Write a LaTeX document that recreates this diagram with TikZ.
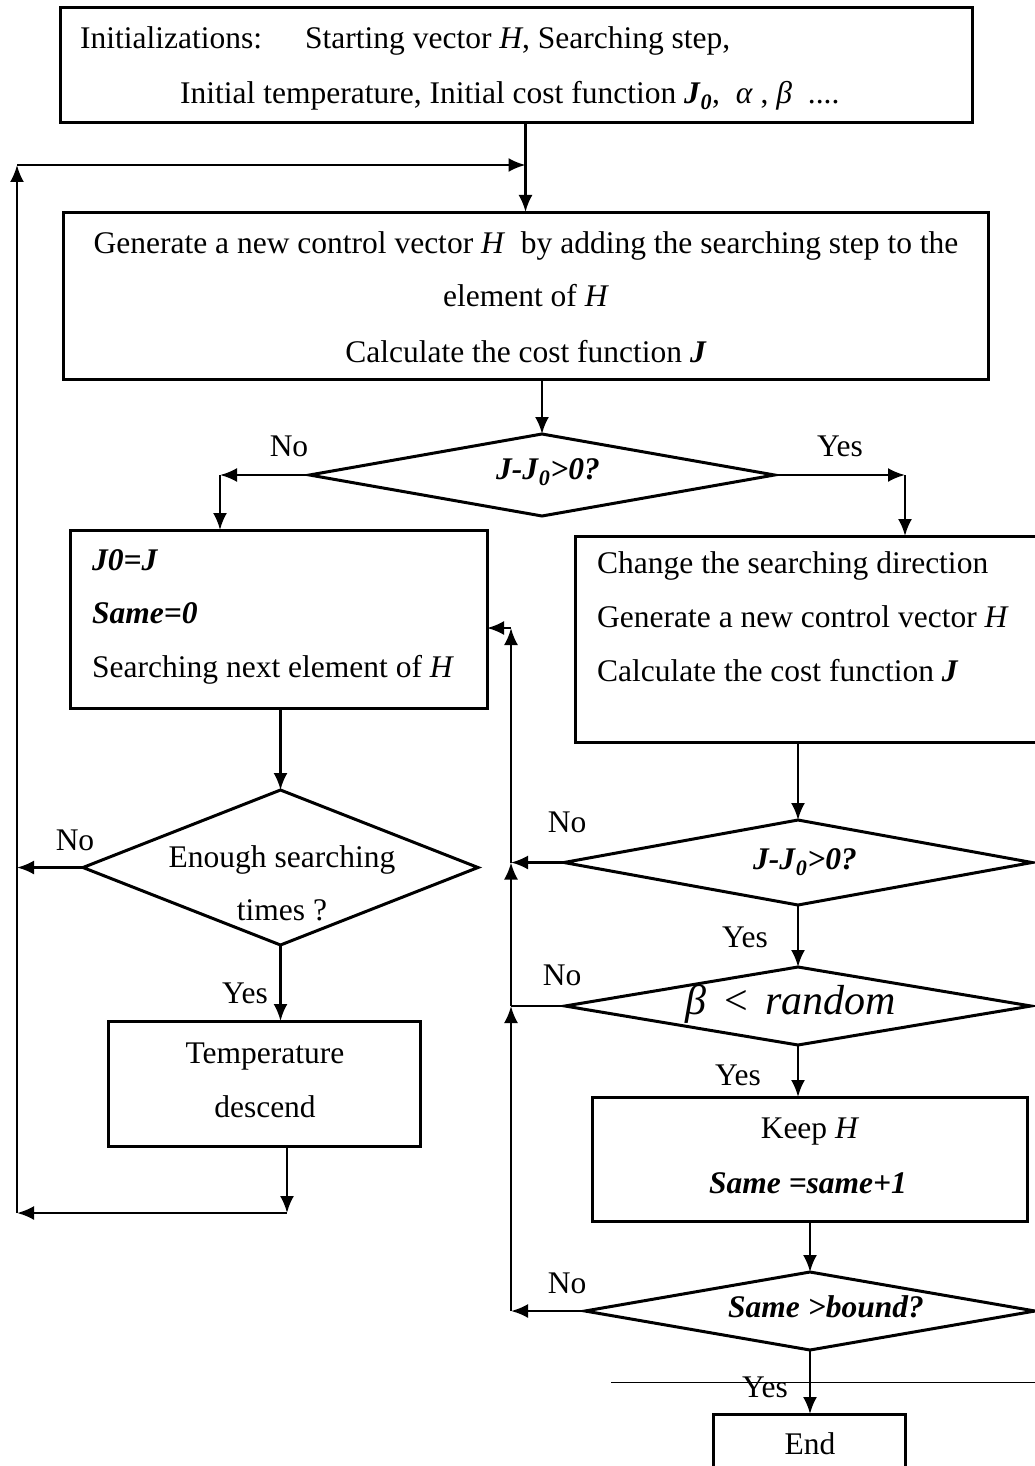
\documentclass[tikz,border=0pt]{standalone}
\usepackage{fontspec}
\setmainfont{Liberation Serif}
\usetikzlibrary{shapes.geometric,arrows.meta}
\newcommand\bi[1]{\textbf{\textit{#1}}}

\begin{document}
\begin{tikzpicture}[x=1pt,y=-1pt,
  every node/.style={font=\fontsize{31.5}{40}\selectfont},
  box/.style={draw, line width=3pt, rectangle, inner sep=0pt, outer sep=0pt},
  dec/.style={draw, line width=3pt, diamond, inner sep=0pt, outer sep=0pt},
  txl/.style={inner sep=0pt, anchor=mid west, yshift=-8.5pt},
  txc/.style={inner sep=0pt, anchor=mid, yshift=-8.5pt},
  wire/.style={line width=2.5pt},
  flow/.style={line width=2.5pt, -{Latex[length=17pt,width=14pt]}}
]
\useasboundingbox (0,0) rectangle (1035,1466);
\clip (0,0) rectangle (1035,1466);

% ---------- shapes ----------
\node[box, minimum width=912, minimum height=115] (init) at (516,65.5) {};
\node[box, minimum width=925, minimum height=167] (gen)  at (525.5,295.5) {};
\node[dec, minimum width=465, minimum height=82]  (d1)   at (542,475) {};
\node[box, minimum width=417, minimum height=178] (boxA) at (278.5,619) {};
\node[box, minimum width=485, minimum height=206] (boxB) at (817.5,639) {};
\node[dec, minimum width=395, minimum height=155] (d2)   at (280.5,867.5) {};
\node[box, minimum width=312, minimum height=125] (temp) at (264,1083.5) {};
\node[dec, minimum width=468, minimum height=85]  (d3)   at (798,862.5) {};
\node[dec, minimum width=466, minimum height=78]  (d4)   at (798,1006) {};
\node[box, minimum width=435, minimum height=124] (keep) at (809.5,1159) {};
\node[dec, minimum width=450, minimum height=78]  (d5)   at (810,1311) {};
\node[box, minimum width=192, minimum height=80]  (done) at (809,1454) {};

% ---------- texts ----------
\node[txl] (t1a) at (80,38) {Initializations:};
\node[txl] (t1b) at (305,38) {Starting vector \textit{H}, Searching step,};
\node[txl] (t1c) at (180,93) {Initial temperature, Initial cost function \bi{J}\textsubscript{\bi{0}}, \ \textit{α} , \textit{β} \ ....};

\node[txc] (g1) at (526,243) {Generate a new control vector \textit{H}\ \ by adding the searching step to the};
\node[txc] (g2) at (526,296) {element of \textit{H}};
\node[txc] (g3) at (526,352) {Calculate the cost function \bi{J}};

\node[txc] (d1t) at (548,469) {\bi{J-J}\textsubscript{\bi{0}}\bi{>0?}};
\node[txc] (n1) at (289,446) {No};
\node[txc] (y1) at (840,446) {Yes};

\node[txl] (a1) at (92,560) {\bi{J0=J}};
\node[txl] (a2) at (92,613) {\bi{Same=0}};
\node[txl] (a3) at (92,667) {Searching next element of \textit{H}};

\node[txl] (b1) at (597,563) {Change the searching direction};
\node[txl] (b2) at (597,617) {Generate a new control vector \textit{H}};
\node[txl] (b3) at (597,671) {Calculate the cost function \bi{J}};

\node[txc] (d2a) at (282,857) {Enough searching};
\node[txc] (d2b) at (282,910) {times ?};
\node[txc] (n2) at (75,840) {No};
\node[txc] (y2) at (245,993) {Yes};

\node[txc] (tp1) at (265,1053) {Temperature};
\node[txc] (tp2) at (265,1107) {descend};

\node[txc] (d3t) at (805,859) {\bi{J-J}\textsubscript{\bi{0}}\bi{>0?}};
\node[txc] (n3) at (567,822) {No};
\node[txc] (y3) at (745,937) {Yes};

\node[txc] (d4t) at (791,1004) {\fontsize{42}{42}\selectfont\textit{β}\ \,<\ \,\textit{random}};
\node[txc] (n4) at (562,975) {No};
\node[txc] (y4) at (738,1075) {Yes};

\node[txc] (k1) at (810,1128) {Keep \textit{H}};
\node[txc] (k2) at (808,1183) {\bi{Same =same+1}};

\node[txc] (d5t) at (826,1307) {\bi{Same >bound?}};
\node[txc] (n5) at (567,1283) {No};
\node[txc] (y5) at (765,1387) {Yes};

\node[txc] (et) at (810,1444) {End};

% ---------- stray rule ----------
\draw[line width=0.8pt] (611,1382) -- (1035,1382);

% ---------- helper points ----------
\coordinate (jn) at (gen.north |- 0,165);
\coordinate (lt) at (17,165);
\coordinate (lb) at (17,1213);
\coordinate (tb) at (287,1213);
\coordinate (cno) at (d1.west -| 220,0);
\coordinate (cyes) at (d1.east -| 905,0);
\coordinate (r5) at (d5.west -| 511,0);
\coordinate (r4) at (d4.west -| 511,0);
\coordinate (r3) at (d3.west -| 511,0);
\coordinate (rt) at (511,628);

% ---------- connectors ----------
\draw[flow] (init.south -| gen.north) -- (gen.north);
\draw[flow] (gen.south -| d1.north) -- (d1.north);
\draw[flow] (d1.west) -- (cno);
\draw[flow] (cno) -- (cno |- boxA.north);
\draw[flow] (d1.east) -- (cyes);
\draw[flow] (cyes) -- (cyes |- boxB.north);

\draw[flow] (boxA.south -| d2.north) -- (d2.north);
\draw[flow] (d2.west) -- (d2.west -| lt);
\draw[flow] (d2.south) -- (d2.south |- temp.north);
\draw[flow] (temp.south -| tb) -- (tb);
\draw[flow] (tb) -- (lb);
\draw[flow] (lb) -- (lt);
\draw[flow] (lt) -- (jn);

\draw[flow] (boxB.south -| d3.north) -- (d3.north);
\draw[flow] (d3.south) -- (d3.south |- d4.north);
\draw[flow] (d4.south) -- (d4.south |- keep.north);
\draw[flow] (keep.south -| d5.north) -- (d5.north);
\draw[flow] (d5.south) -- (d5.south |- done.north);

\draw[flow] (d5.west) -- (r5);
\draw[flow] (r5) -- (r4);
\draw[wire] (d4.west) -- (r4);
\draw[flow] (r4) -- (r3);
\draw[flow] (d3.west) -- (r3);
\draw[flow] (r3) -- (rt);
\draw[flow] (rt) -- (boxA.east |- rt);
\end{tikzpicture}
\end{document}
